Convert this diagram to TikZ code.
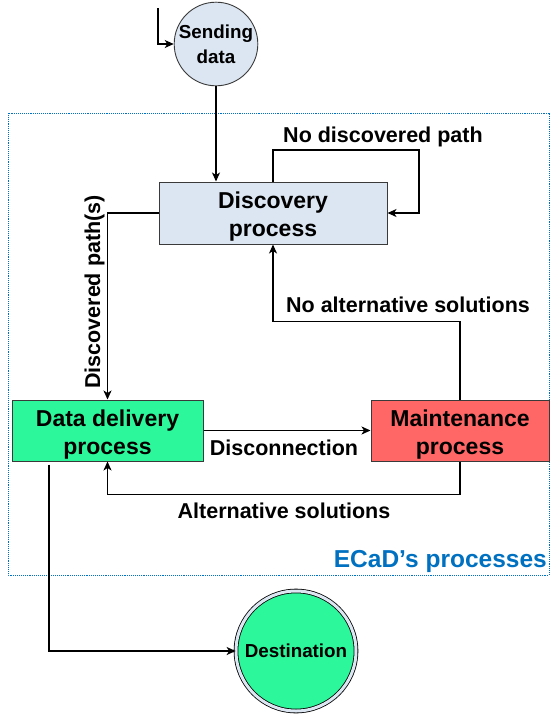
\documentclass[tikz,border=0pt]{standalone}
\usepackage{fontspec}
\setmainfont{Liberation Sans}
\usetikzlibrary{arrows.meta,calc}

\definecolor{paleblue}{HTML}{DCE6F2}
\definecolor{brightgreen}{HTML}{2CF89B}
\definecolor{softred}{HTML}{FF6666}
\definecolor{frameblue}{HTML}{0070C0}
\definecolor{edgegray}{HTML}{3A3A3A}

% taller first line so the two-line box labels sit a little lower
\newcommand{\boxstrut}{\rule{0pt}{24pt}}

\tikzset{
  procbox/.style={draw=edgegray, line width=1pt, rectangle, inner sep=0pt,
    align=center, font=\fontsize{23}{28}\selectfont\bfseries},
  statecirc/.style={draw=edgegray, line width=0.9pt, circle, inner sep=0pt,
    align=center, font=\fontsize{18.8}{25}\selectfont\bfseries},
  flow/.style={line width=1.3pt, -{Stealth[length=9pt,width=8pt,inset=2.5pt]}},
  lbl/.style={font=\fontsize{21.5}{25}\selectfont\bfseries, inner sep=0pt, anchor=base}
}

\begin{document}
\begin{tikzpicture}[x=1pt,y=-1pt]
  \useasboundingbox (0,0) rectangle (550,715);

  % frame grouping the ECaD processes
  \draw[frameblue, densely dotted, line width=0.9pt] (8,113) rectangle (549,575);
  \node[anchor=base east, text=frameblue, font=\fontsize{24.5}{28}\selectfont\bfseries, inner sep=0pt]
    (frametitle) at (547,567) {ECaD’s processes};

  % states and processes
  \node[statecirc, fill=paleblue, minimum size=76pt] (send) at (216,44) {Sending\\data};
  \node[procbox, fill=paleblue, minimum width=228pt, minimum height=62pt] (disc) at (273,213) {\boxstrut Discovery\\process};
  \node[procbox, fill=brightgreen, minimum width=191pt, minimum height=61pt] (deliv) at (107.5,430.5) {\boxstrut Data delivery\\process};
  \node[procbox, fill=softred, minimum width=178pt, minimum height=61pt] (maint) at (460,430.5) {\boxstrut Maintenance\\process};
  \node[circle, draw=black, line width=0.8pt, double=paleblue, double distance=3pt,
    fill=brightgreen, inner sep=0pt, minimum size=120pt,
    font=\fontsize{18.8}{22}\selectfont\bfseries] (dest) at (296,651) {Destination};

  % entry point
  \coordinate (entry) at (158,8);
  \draw[flow] (entry) |- (send.west);

  % transitions
  \draw[flow] (send.south) -- (send.south |- disc.north);

  \coordinate (loopc) at (419,150);
  \draw[flow] (disc.north) |- (loopc) |- (disc.east);
  \node[lbl] (lnopath) at (383,142) {No discovered path};

  \draw[flow] (disc.west) -| (deliv.north);
  \node[lbl, rotate=90] (lfound) at (100,292) {Discovered path(s)};

  \draw[flow] (deliv.east) -- (maint.west);
  \node[lbl] (ldisc) at (284,455) {Disconnection};

  \draw[flow] (maint.south) -- ++(0,33) -| (deliv.south);
  \node[lbl] (lalt) at (284,518) {Alternative solutions};

  \draw[flow] (maint.north) -- ++(0,-78) -| (disc.south);
  \node[lbl] (lnoalt) at (408,312) {No alternative solutions};

  \draw[flow] ([shift={(-58.5,3)}]deliv.south) |- (dest.west);
\end{tikzpicture}
\end{document}
